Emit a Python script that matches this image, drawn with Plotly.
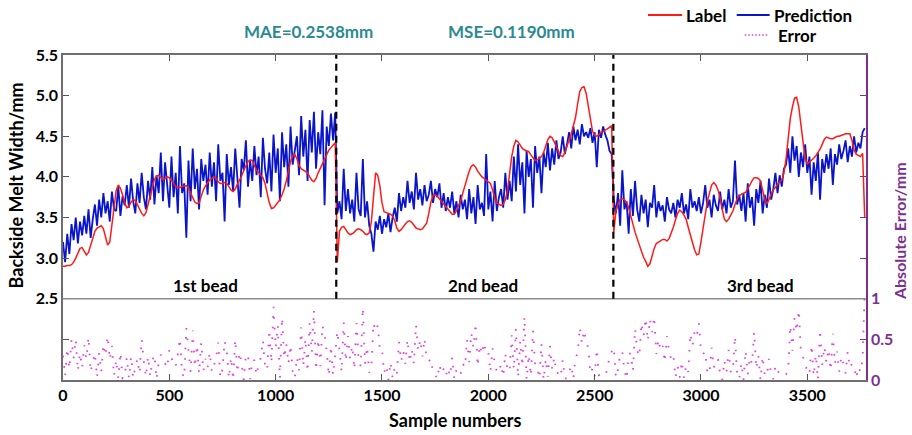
import numpy as np
import plotly.graph_objects as go

# sample index step between stored points
STEP = 10

# measured backside melt width (mm), one value every 10 samples
label = [
    2.90, 2.90, 2.91, 2.91, 2.92, 2.95, 3.00, 3.07, 3.12, 3.13,
    3.09, 3.04, 3.07, 3.15, 3.25, 3.33, 3.37, 3.39, 3.40, 3.36,
    3.25, 3.16, 3.20, 3.40, 3.65, 3.83, 3.90, 3.86, 3.78, 3.68,
    3.62, 3.64, 3.69, 3.72, 3.71, 3.66, 3.60, 3.55, 3.52, 3.56,
    3.66, 3.76, 3.88, 3.97, 4.01, 4.02, 3.99, 3.97, 3.98, 4.00,
    3.99, 3.96, 3.92, 3.88, 3.87, 3.87, 3.88, 3.89, 3.89, 3.86,
    3.80, 3.74, 3.69, 3.67, 3.68, 3.76, 3.84, 3.89, 3.93, 3.96,
    3.98, 4.00, 3.98, 3.94, 3.92, 3.92, 3.93, 3.92, 3.88, 3.84,
    3.82, 3.85, 3.91, 3.96, 4.01, 4.08, 4.14, 4.19, 4.21, 4.20,
    4.14, 4.08, 4.05, 4.02, 3.99, 3.92, 3.80, 3.68, 3.61, 3.62,
    3.65, 3.68, 3.72, 3.78, 3.85, 3.95, 4.08, 4.19, 4.26, 4.28,
    4.22, 4.14, 4.10, 4.08, 4.07, 4.05, 4.00, 3.96, 3.94, 3.98,
    4.05, 4.11, 4.15, 4.21, 4.27, 4.33, 4.36, 4.39, 4.42, 2.95,
    3.33, 3.38, 3.39, 3.35, 3.31, 3.29, 3.30, 3.32, 3.35, 3.36,
    3.35, 3.33, 3.30, 3.29, 3.31, 3.45, 3.78, 4.05, 4.02, 3.89,
    3.68, 3.57, 3.56, 3.55, 3.54, 3.52, 3.46, 3.37, 3.33, 3.35,
    3.39, 3.42, 3.45, 3.46, 3.44, 3.40, 3.37, 3.36, 3.35, 3.36,
    3.39, 3.43, 3.55, 3.69, 3.77, 3.78, 3.76, 3.73, 3.70, 3.66,
    3.63, 3.60, 3.57, 3.54, 3.54, 3.58, 3.65, 3.70, 3.80, 3.88,
    3.98, 4.07, 4.13, 4.15, 4.12, 4.07, 4.03, 4.00, 3.98, 3.96,
    3.94, 3.92, 3.84, 3.74, 3.68, 3.66, 3.65, 3.66, 3.72, 3.83,
    4.06, 4.25, 4.38, 4.45, 4.43, 4.38, 4.35, 4.33, 4.32, 4.31,
    4.27, 4.23, 4.20, 4.21, 4.23, 4.25, 4.30, 4.38, 4.46, 4.50,
    4.48, 4.43, 4.37, 4.31, 4.26, 4.25, 4.30, 4.38, 4.45, 4.53,
    4.63, 4.73, 4.90, 5.05, 5.10, 5.11, 5.03, 4.87, 4.68, 4.56,
    4.51, 4.50, 4.52, 4.55, 4.56, 4.57, 4.59, 4.61, 4.63, 3.32,
    3.58, 3.67, 3.72, 3.73, 3.72, 3.69, 3.62, 3.52, 3.41, 3.32,
    3.24, 3.16, 3.08, 3.01, 2.96, 2.90, 2.93, 3.03, 3.12, 3.18,
    3.20, 3.22, 3.23, 3.23, 3.21, 3.24, 3.30, 3.38, 3.47, 3.55,
    3.59, 3.57, 3.53, 3.48, 3.38, 3.28, 3.20, 3.10, 3.04, 3.05,
    3.20, 3.36, 3.55, 3.70, 3.80, 3.90, 3.93, 3.90, 3.84, 3.74,
    3.60, 3.48, 3.45, 3.48, 3.53, 3.58, 3.66, 3.73, 3.77, 3.79,
    3.80, 3.81, 3.85, 3.90, 3.95, 3.99, 3.99, 3.98, 3.95, 3.84,
    3.72, 3.67, 3.72, 3.79, 3.84, 3.87, 3.91, 3.94, 3.96, 4.05,
    4.22, 4.48, 4.72, 4.86, 4.97, 4.98, 4.86, 4.64, 4.40, 4.22,
    4.16, 4.18, 4.21, 4.23, 4.26, 4.30, 4.34, 4.40, 4.46, 4.49,
    4.48, 4.47, 4.47, 4.48, 4.50, 4.50, 4.51, 4.52, 4.53, 4.53,
    4.53, 4.45, 4.33, 4.28, 4.26, 4.25, 4.29, 3.50,
]

# model prediction (mm), same sample grid
prediction = [
    3.20, 2.95, 3.30, 3.05, 3.42, 3.22, 3.50, 3.18, 3.45, 3.28,
    3.52, 3.30, 3.60, 3.25, 3.48, 3.66, 3.40, 3.72, 3.50, 3.80,
    3.55, 3.70, 3.45, 3.82, 3.60, 3.58, 3.88, 3.52, 3.76, 3.65,
    3.90, 3.62, 3.98, 3.70, 3.55, 3.92, 3.68, 4.05, 3.75, 3.60,
    3.95, 3.72, 4.12, 3.66, 4.02, 3.80, 4.30, 3.70, 4.18, 3.85,
    3.62, 4.25, 3.75, 4.05, 3.55, 4.38, 3.80, 3.92, 3.25, 4.20,
    3.70, 4.35, 3.85, 4.10, 3.60, 4.22, 3.95, 4.15, 3.78, 4.30,
    3.88, 4.18, 3.70, 4.40, 3.95, 4.05, 3.45, 4.28, 3.90, 4.12,
    3.82, 4.35, 4.00, 3.62, 4.22, 4.08, 4.45, 3.88, 4.20, 3.95,
    4.38, 4.02, 4.25, 3.75, 4.48, 4.10, 3.92, 4.30, 3.82, 4.52,
    4.05, 4.35, 3.70, 4.55, 4.12, 4.40, 3.88, 4.62, 4.15, 4.30,
    4.50, 4.02, 4.75, 4.25, 4.58, 3.95, 4.70, 4.30, 4.80, 4.10,
    4.55, 4.28, 4.82, 3.65, 4.62, 4.38, 4.78, 4.45, 4.79, 3.55,
    3.70, 3.48, 4.10, 3.58, 3.85, 3.55, 3.72, 3.45, 4.05, 3.60,
    3.52, 4.22, 3.50, 3.70, 3.40, 3.30, 3.08, 3.45, 3.35, 3.52,
    3.30, 3.48, 3.38, 3.55, 3.32, 3.50, 3.62, 3.45, 3.80, 3.58,
    3.75, 3.62, 3.95, 3.68, 3.82, 3.60, 4.05, 3.72, 3.85, 3.65,
    3.90, 3.70, 3.78, 3.95, 3.68, 3.85, 3.75, 3.92, 3.62, 3.80,
    3.58, 3.75, 3.62, 3.82, 3.55, 3.70, 3.50, 3.78, 3.60, 3.72,
    3.48, 3.85, 3.55, 3.75, 3.42, 3.90, 3.60, 3.68, 3.52, 4.28,
    3.60, 3.82, 3.45, 3.95, 3.58, 3.75, 3.85, 3.62, 4.05, 3.72,
    3.95, 3.70, 4.25, 3.82, 4.40, 3.90, 4.18, 3.55, 4.32, 4.00,
    4.22, 3.62, 4.38, 4.05, 4.25, 3.80, 4.30, 4.12, 4.42, 4.08,
    4.35, 4.15, 4.45, 4.22, 4.30, 4.50, 4.28, 4.40, 4.55, 4.35,
    4.62, 4.45, 4.58, 4.40, 4.65, 4.50, 4.55, 4.48, 4.60, 4.42,
    4.55, 4.12, 4.58, 4.48, 4.62, 4.52, 4.45, 4.32, 4.28, 3.72,
    3.55, 3.80, 3.40, 4.08, 3.60, 3.70, 3.30, 3.85, 3.52, 3.95,
    3.60, 3.45, 3.78, 3.55, 3.72, 3.38, 3.68, 3.62, 3.90, 3.50,
    3.70, 3.58, 3.65, 3.45, 3.75, 3.60, 3.55, 3.68, 3.50, 3.72,
    3.62, 3.80, 3.55, 3.66, 3.48, 3.85, 3.62, 3.70, 3.58, 3.75,
    3.55, 3.68, 3.90, 3.62, 3.72, 3.50, 3.78, 3.65, 3.58, 3.82,
    3.60, 3.72, 3.55, 3.85, 3.62, 3.70, 4.20, 3.66, 3.78, 3.58,
    3.80, 3.45, 3.92, 3.62, 3.75, 3.40, 3.85, 3.68, 3.95, 3.55,
    3.78, 3.62, 3.98, 3.72, 3.85, 4.05, 3.80, 4.02, 3.88, 4.10,
    4.15, 4.35, 4.05, 4.50, 4.20, 4.38, 4.00, 4.30, 4.12, 4.40,
    4.05, 4.25, 3.78, 4.18, 3.95, 4.30, 3.72, 4.22, 4.05, 4.28,
    4.10, 4.35, 3.90, 4.28, 4.15, 4.40, 4.22, 4.32, 4.45, 4.18,
    4.38, 4.25, 4.50, 4.30, 4.42, 4.35, 4.55, 4.60,
]

# sample numbers where each bead ends
bead_bounds = [1285, 2588]
bead_names = ["1st bead", "2nd bead", "3rd bead"]

x_ticks = [0, 500, 1000, 1500, 2000, 2500, 3000, 3500]
left_ticks = [2.0, 2.5, 3.0, 3.5, 4.0, 4.5, 5.0, 5.5]
left_text = ["", "2.5", "3.0", "3.5", "4.0", "4.5", "5.0", "5.5"]
right_ticks = [0, 0.5, 1, 1.5, 2, 2.5, 3, 3.5]
right_text = ["0", "0.5", "1", "", "", "", "", ""]

samples = np.arange(len(label)) * STEP
lab = np.array(label)
pred = np.array(prediction)
abs_err = np.abs(lab - pred)

FONT = "Lato"
TEAL = "#2b8a91"
PURPLE = "#7d2f8e"
GRAY = "#6e6e6e"

fig = go.Figure()

fig.add_trace(go.Scatter(
    x=samples, y=abs_err, mode="lines", yaxis="y2", name="Error",
    line=dict(color="#e040dc", width=1.8, dash="1.6px,9px"),
    showlegend=False,
))
fig.add_trace(go.Scatter(
    x=samples, y=pred, mode="lines", name="Prediction",
    line=dict(color="#0a14c8", width=1.8), showlegend=False,
))
fig.add_trace(go.Scatter(
    x=samples, y=lab, mode="lines", name="Label",
    line=dict(color="#ff1a1a", width=1.5), showlegend=False,
))

shapes = [
    # separator between width panel and error panel
    dict(type="line", xref="paper", yref="y", x0=0, x1=1, y0=2.5, y1=2.5,
         line=dict(color="#8c8c8c", width=1.5)),
]
for b in bead_bounds:
    shapes.append(dict(type="line", xref="x", yref="y", x0=b, x1=b, y0=2.5, y1=5.5,
                       line=dict(color="black", width=2.2, dash="7px,5px")))

# hand-drawn legend keys
shapes += [
    dict(type="line", xref="paper", yref="paper", x0=0.7285, x1=0.771, y0=1.123, y1=1.123,
         line=dict(color="#ff1a1a", width=2)),
    dict(type="line", xref="paper", yref="paper", x0=0.839, x1=0.880, y0=1.123, y1=1.123,
         line=dict(color="#0a14c8", width=2)),
    dict(type="line", xref="paper", yref="paper", x0=0.849, x1=0.877, y0=1.0615, y1=1.0615,
         line=dict(color="#e040dc", width=1.5, dash="1.5px,2px")),
]

bold = dict(family=FONT, size=17, color="black", weight="bold")
annotations = [
    dict(text="Label", xref="paper", yref="paper", x=0.773, y=1.123, xanchor="left",
         yanchor="middle", showarrow=False, font=bold),
    dict(text="Prediction", xref="paper", yref="paper", x=0.883, y=1.123, xanchor="left",
         yanchor="middle", showarrow=False, font=bold),
    dict(text="Error", xref="paper", yref="paper", x=0.888, y=1.0615, xanchor="left",
         yanchor="middle", showarrow=False, font=bold),
    dict(text="MAE=0.2538mm", xref="paper", yref="paper", x=0.306, y=1.071,
         xanchor="center", yanchor="middle", showarrow=False,
         font=dict(family=FONT, size=17, color=TEAL, weight="bold")),
    dict(text="MSE=0.1190mm", xref="paper", yref="paper", x=0.559, y=1.071,
         xanchor="center", yanchor="middle", showarrow=False,
         font=dict(family=FONT, size=17, color=TEAL, weight="bold")),
    dict(text="Backside Melt Width/mm", xref="paper", yref="paper", x=-0.058, y=0.60,
         textangle=-90, xanchor="center", yanchor="middle", showarrow=False,
         font=dict(family=FONT, size=18, color="black", weight="bold")),
    dict(text="Absolute Error/mm", xref="paper", yref="paper", x=1.041, y=0.458,
         textangle=-90, xanchor="center", yanchor="middle", showarrow=False,
         font=dict(family=FONT, size=16, color=PURPLE, weight="bold")),
    dict(text="Sample numbers", xref="paper", yref="paper", x=0.489, y=-0.123,
         xanchor="center", yanchor="middle", showarrow=False,
         font=dict(family=FONT, size=18, color="black", weight="bold")),
]
for name, xp in zip(bead_names, [0.177, 0.523, 0.868]):
    annotations.append(dict(text=name, xref="paper", yref="paper", x=xp, y=0.292,
                            xanchor="center", yanchor="middle", showarrow=False,
                            font=dict(family=FONT, size=17, color="black", weight="bold")))

fig.update_layout(
    width=912, height=435,
    margin=dict(l=63, r=46, t=55, b=55),
    paper_bgcolor="white", plot_bgcolor="white",
    showlegend=False,
    xaxis=dict(
        range=[0, 3776], tickvals=x_ticks, ticks="inside", ticklen=6,
        tickcolor="#555", showline=True, linecolor=GRAY, linewidth=1.5,
        mirror="ticks", showgrid=False, zeroline=False,
        tickfont=dict(family=FONT, size=16, color="black", weight="bold"),
    ),
    yaxis=dict(
        range=[1.5, 5.5], tickvals=left_ticks, ticktext=left_text,
        ticks="inside", ticklen=6, tickcolor="#555", showline=True,
        linecolor=GRAY, linewidth=1.5, showgrid=False, zeroline=False,
        tickfont=dict(family=FONT, size=16, color="black", weight="bold"),
    ),
    yaxis2=dict(
        range=[0, 4], overlaying="y", side="right", tickvals=right_ticks,
        ticktext=right_text, ticks="inside", ticklen=6, tickcolor=PURPLE,
        showline=True, linecolor=PURPLE, linewidth=1.5, showgrid=False,
        zeroline=False,
        tickfont=dict(family=FONT, size=16, color=PURPLE, weight="bold"),
    ),
    shapes=shapes,
    annotations=annotations,
)

fig.write_html("out.html")
